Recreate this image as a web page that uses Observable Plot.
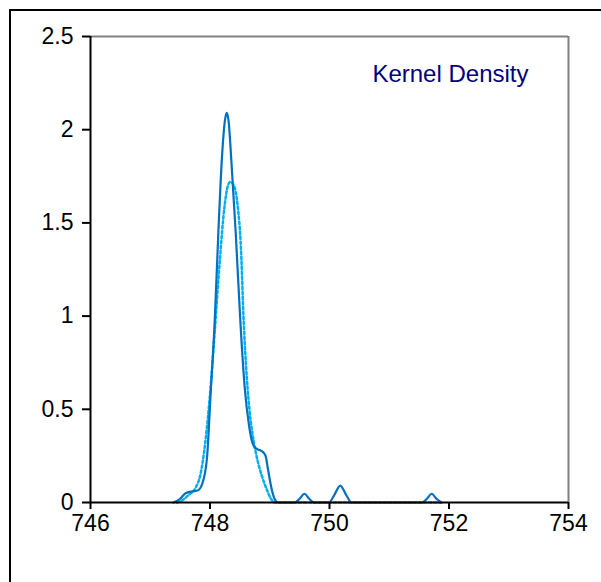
<!DOCTYPE html>
<html>
<head>
<meta charset="utf-8">
<script src="https://cdn.jsdelivr.net/npm/d3@7"></script>
<script src="https://cdn.jsdelivr.net/npm/@observablehq/plot@0.6"></script>
<style>
  html, body { margin: 0; padding: 0; background: #fff; }
  #wrap { position: relative; width: 601px; height: 582px; overflow: hidden; }
  #frame { position: absolute; left: 9px; top: 9px; width: 620px; height: 620px;
           border-left: 2px solid #000; border-top: 2px solid #000; box-sizing: border-box; }
  #chart { position: absolute; left: 0; top: 0; }
</style>
</head>
<body>
<div id="wrap">
  <div id="frame"></div>
  <div id="chart"></div>
</div>
<script>
// Kernel density estimate (solid) and smoother reference density (dotted)
const kdeX = [747.39, 747.50, 747.59, 747.71, 747.79, 747.87, 747.95, 748.01, 748.08, 748.14,
              748.20, 748.25, 748.28, 748.31, 748.36, 748.43, 748.51, 748.58, 748.65, 748.71,
              748.77, 748.84, 748.89, 748.93, 748.97, 749.02, 749.08, 749.14,
              749.42, 749.50, 749.58, 749.66, 749.74,
              749.99, 750.08, 750.18, 750.28, 750.37,
              751.55, 751.63, 751.71, 751.79, 751.87];
const kdeY = [0, 0.02, 0.05, 0.06, 0.064, 0.10, 0.24, 0.58, 0.98, 1.45,
              1.85, 2.05, 2.09, 2.05, 1.82, 1.45, 0.96, 0.62, 0.42, 0.32,
              0.29, 0.28, 0.27, 0.25, 0.18, 0.09, 0.02, 0,
              0, 0.02, 0.047, 0.02, 0,
              0, 0.04, 0.09, 0.04, 0,
              0, 0.02, 0.047, 0.02, 0];

const refX = [747.45, 747.55, 747.64, 747.76, 747.84, 747.92, 748.00, 748.08, 748.16, 748.24,
              748.30, 748.34, 748.40, 748.46, 748.52, 748.56, 748.60, 748.66, 748.73, 748.80,
              748.87, 748.95, 749.02, 749.08, 751.90];
const refY = [0, 0.015, 0.04, 0.08, 0.15, 0.32, 0.58, 0.92, 1.28, 1.58,
              1.70, 1.72, 1.70, 1.60, 1.35, 1.00, 0.75, 0.50, 0.33, 0.22,
              0.14, 0.07, 0.02, 0, 0];

const xTicks = [746, 748, 750, 752, 754];
const yTicks = [0, 0.5, 1, 1.5, 2, 2.5];
const title = "Kernel Density";

const kde = kdeX.map((x, i) => ({x, y: kdeY[i]}));
const ref = refX.map((x, i) => ({x, y: refY[i]}));

const chart = Plot.plot({
  width: 601,
  height: 582,
  marginLeft: 90,
  marginRight: 33,
  marginTop: 36,
  marginBottom: 80,
  style: {fontFamily: "'Liberation Sans', Arial, sans-serif", background: "transparent", color: "#000"},
  x: {domain: [746, 754]},
  y: {domain: [0, 2.5]},
  marks: [
    // plot-area border (top and right)
    Plot.ruleY([2.5], {stroke: "#808080", strokeWidth: 2}),
    Plot.ruleX([754], {stroke: "#808080", strokeWidth: 2}),
    Plot.line(ref, {x: "x", y: "y", stroke: "#00B0F0", strokeWidth: 2.5,
                    strokeDasharray: "2.5 2.5", curve: "monotone-x"}),
    Plot.line(kde, {x: "x", y: "y", stroke: "#0070C0", strokeWidth: 2.2, curve: "monotone-x"}),
    // axes
    Plot.ruleX([746], {stroke: "#000", strokeWidth: 2}),
    Plot.ruleY([0], {stroke: "#000", strokeWidth: 2}),
    Plot.axisX({ticks: xTicks, tickSize: 7, tickPadding: 5,
                tickFormat: d => String(d), strokeWidth: 2, label: null}),
    Plot.axisY({ticks: yTicks, tickSize: 8, tickPadding: 9,
                tickFormat: d => String(d), strokeWidth: 2, label: null}),
    Plot.text([title], {frameAnchor: "top-right", textAnchor: "end", dx: -40, dy: 38,
                        fontSize: 24, fill: "#000080", lineAnchor: "middle",
                        wordSpacing: "-3px"})
  ]
});
// larger tick labels
d3.select(chart).selectAll("text")
  .filter(function () { return this.textContent !== title; })
  .style("font-size", "23px");
document.getElementById("chart").appendChild(chart);
</script>
</body>
</html>
